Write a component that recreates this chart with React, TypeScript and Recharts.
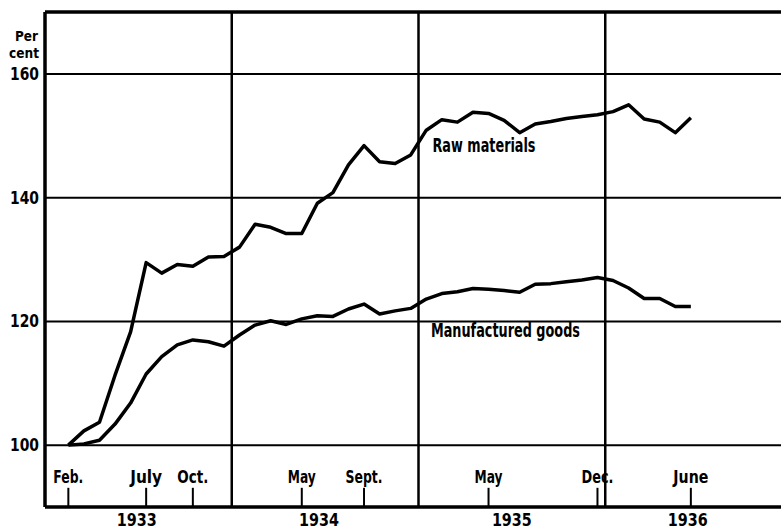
import { LineChart, Line, XAxis, YAxis, CartesianGrid, ReferenceLine, ReferenceDot } from 'recharts';

const FONT = '"DejaVu Sans", "Liberation Sans", Arial, sans-serif';

// monthly index numbers, Feb 1933 = 100
const months = [
    'Feb 1933', 'Mar 1933', 'Apr 1933', 'May 1933', 'Jun 1933', 'Jul 1933', 'Aug 1933', 'Sep 1933', 'Oct 1933', 'Nov 1933', 'Dec 1933',
    'Jan 1934', 'Feb 1934', 'Mar 1934', 'Apr 1934', 'May 1934', 'Jun 1934', 'Jul 1934', 'Aug 1934', 'Sep 1934', 'Oct 1934', 'Nov 1934', 'Dec 1934',
    'Jan 1935', 'Feb 1935', 'Mar 1935', 'Apr 1935', 'May 1935', 'Jun 1935', 'Jul 1935', 'Aug 1935', 'Sep 1935', 'Oct 1935', 'Nov 1935', 'Dec 1935',
    'Jan 1936', 'Feb 1936', 'Mar 1936', 'Apr 1936', 'May 1936', 'Jun 1936',
];

const rawMaterials = [
    100, 102.3, 103.7, 111.3, 118.3, 129.5, 127.8, 129.2, 128.9, 130.4, 130.5,
    132, 135.7, 135.2, 134.2, 134.2, 139.1, 140.8, 145.3, 148.4, 145.8, 145.5, 146.9,
    150.9, 152.6, 152.2, 153.8, 153.6, 152.5, 150.5, 151.9, 152.3, 152.8, 153.1, 153.4,
    153.9, 155, 152.7, 152.2, 150.5, 152.9,
];

const manufacturedGoods = [
    100, 100.2, 100.8, 103.4, 106.8, 111.5, 114.3, 116.2, 117, 116.7, 116,
    117.8, 119.4, 120.1, 119.5, 120.4, 120.9, 120.8, 122, 122.8, 121.2, 121.7, 122.1,
    123.6, 124.5, 124.8, 125.3, 125.2, 125, 124.7, 126, 126.1, 126.4, 126.7, 127.1,
    126.6, 125.4, 123.7, 123.7, 122.4, 122.4,
];

// x axis is months since Jan 1933, points sit mid-month
const monthTicks = [1.5, 6.5, 9.5, 16.5, 20.5, 28.5, 35.5, 41.5];
const monthTickLabels = ['Feb.', 'July', 'Oct.', 'May', 'Sept.', 'May', 'Dec.', 'June'];
const monthLabelWidths = [30, 32, 31, 28, 37, 28, 32, 35];
const yearTicks = [5.9, 17.6, 30, 41.3];
const yearLabels = ['1933', '1934', '1935', '1936'];
const yearBoundaries = [12, 24, 36];
const yTicks = [100, 120, 140, 160];

const data = months.map((m, i) => ({
    month: m,
    t: i + 1.5,
    raw: rawMaterials[i],
    manuf: manufacturedGoods[i],
}));

const bold = { fontFamily: FONT, fontWeight: 700 };

function MonthTick({ x, y, payload }: any) {
    const idx = monthTicks.indexOf(payload.value);
    return (
        <text x={x} y={y - 24} textAnchor="middle" fill="#000" fontSize={17}
            textLength={monthLabelWidths[idx]} lengthAdjust="spacingAndGlyphs" style={bold}>
            {monthTickLabels[idx]}
        </text>
    );
}

function YearTick({ x, y, payload }: any) {
    const idx = yearTicks.indexOf(payload.value);
    return (
        <text x={x} y={y + 17} textAnchor="middle" fill="#000" fontSize={17}
            textLength={40} lengthAdjust="spacingAndGlyphs" style={bold}>
            {yearLabels[idx]}
        </text>
    );
}

function YTick({ x, y, payload }: any) {
    return (
        <text x={x} y={y} dy="0.36em" textAnchor="end" fill="#000" fontSize={17}
            textLength={29} lengthAdjust="spacingAndGlyphs" style={bold}>
            {payload.value}
        </text>
    );
}

function SeriesLabel({ viewBox, text, width }: any) {
    return (
        <text x={viewBox.x} y={viewBox.y} dy="0.36em" fill="#000" fontSize={19}
            textLength={width} lengthAdjust="spacingAndGlyphs" style={bold}>
            {text}
        </text>
    );
}

export default function App() {
    return (
        <div style={{ position: 'absolute', left: 0, top: 0, width: 781, height: 531, overflow: 'hidden', background: '#fff' }}>
            <LineChart width={792} height={531} data={data} margin={{ top: 12, right: 0, bottom: 0, left: 0 }}
                style={{ position: 'absolute', left: 0, top: 0 }}>
                <CartesianGrid vertical={false} stroke="#000" strokeWidth={2} strokeOpacity={1} />
                {yearBoundaries.map((b) => (
                    <ReferenceLine key={b} x={b} xAxisId="m" stroke="#000" strokeWidth={2.5} />
                ))}
                {monthTicks.map((t) => (
                    <ReferenceLine key={`tk${t}`} xAxisId="m" stroke="#000" strokeWidth={2}
                        segment={[{ x: t, y: 90 }, { x: t, y: 93.1 }]} />
                ))}
                <ReferenceLine y={170} xAxisId="m" stroke="#000" strokeWidth={3.5} />
                <XAxis xAxisId="m" type="number" dataKey="t" domain={[0, 48]} ticks={monthTicks}
                    height={2} tickSize={0} tickMargin={0} tickLine={false}
                    axisLine={{ stroke: '#000', strokeWidth: 3.5 }} tick={<MonthTick />} interval={0} />
                <XAxis xAxisId="y" type="number" dataKey="t" domain={[0, 48]} ticks={yearTicks}
                    height={22} tickSize={0} tickMargin={0} tickLine={false} axisLine={false}
                    tick={<YearTick />} interval={0} />
                <YAxis type="number" domain={[90, 170]} ticks={yTicks} width={45} interval={0}
                    tickSize={0} tickMargin={6} tickLine={false}
                    axisLine={{ stroke: '#000', strokeWidth: 3.5 }} tick={<YTick />} />
                <Line xAxisId="m" type="linear" dataKey="raw" stroke="#000" strokeWidth={3.5}
                    strokeLinejoin="round" dot={false} isAnimationActive={false} />
                <Line xAxisId="m" type="linear" dataKey="manuf" stroke="#000" strokeWidth={3.5}
                    strokeLinejoin="round" dot={false} isAnimationActive={false} />
                <ReferenceDot xAxisId="m" x={24.9} y={148.5} r={0} fill="none" stroke="none"
                    label={<SeriesLabel text="Raw materials" width={103} />} />
                <ReferenceDot xAxisId="m" x={24.8} y={118.6} r={0} fill="none" stroke="none"
                    label={<SeriesLabel text="Manufactured goods" width={149} />} />
            </LineChart>
            <svg width={44} height={62} style={{ position: 'absolute', left: 0, top: 0 }}>
                <text x={38} y={41} textAnchor="end" fontSize={14} textLength={23} lengthAdjust="spacingAndGlyphs" style={bold}>Per</text>
                <text x={39} y={58} textAnchor="end" fontSize={14} textLength={30} lengthAdjust="spacingAndGlyphs" style={bold}>cent</text>
            </svg>
        </div>
    );
}
